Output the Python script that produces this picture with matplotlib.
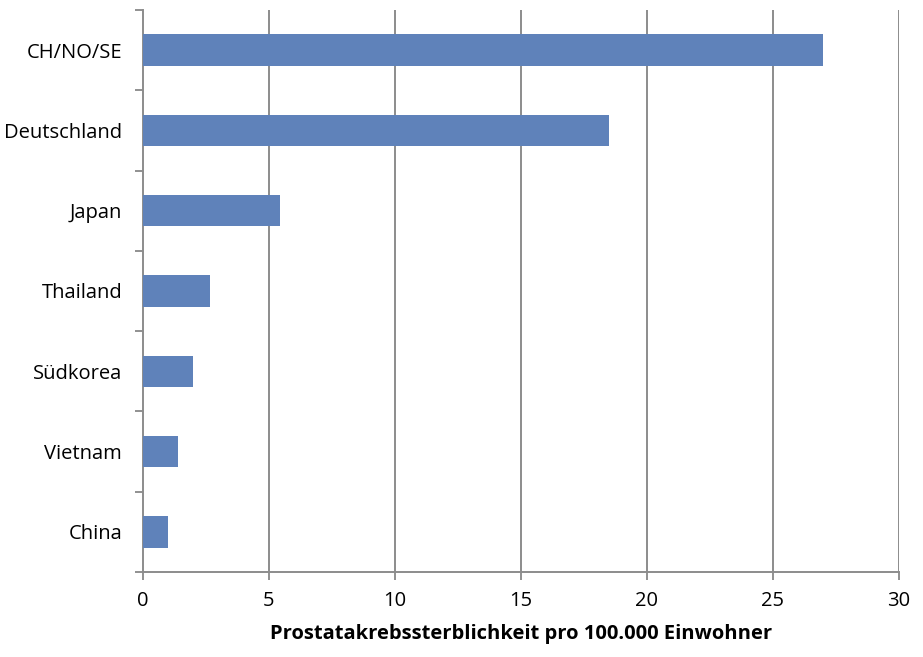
import matplotlib
matplotlib.use("Agg")
import matplotlib.pyplot as plt
import numpy as np

categories = ["CH/NO/SE", "Deutschland", "Japan", "Thailand", "Südkorea", "Vietnam", "China"]
values = [27.0, 18.5, 5.45, 2.65, 2.0, 1.4, 1.0]
xticks = [0, 5, 10, 15, 20, 25, 30]
xlabel = "Prostatakrebssterblichkeit pro 100.000 Einwohner"

plt.rcParams['font.family'] = ['Open Sans', 'DejaVu Sans']

fig = plt.figure(figsize=(9.23, 6.57), dpi=100)
ax = fig.add_axes([143/923, 1 - 572/657, (899-143)/923, (572-10)/657])

n = len(categories)
ypos = np.arange(n)[::-1]
ax.barh(ypos, values, height=0.39, color="#5F82BA", zorder=3)

ax.set_xlim(0, 30)
ax.set_ylim(-0.5, n - 0.5)
ax.set_xticks(xticks)
ax.set_xticklabels([str(t) for t in xticks], fontsize=14.5)
ax.set_yticks(ypos)
ax.set_yticklabels(categories, fontsize=14.5)
ax.tick_params(axis='y', which='major', length=0, pad=15)
ax.set_yticks(np.arange(n + 1) - 0.5, minor=True)
ax.tick_params(axis='y', which='minor', length=6, width=1.3, color='#888888', direction='out')
ax.tick_params(axis='x', which='major', length=6, width=1.3, color='#888888', direction='out', pad=8)

for t in xticks[1:]:
    ax.axvline(t, color='#8c8c8c', lw=1.4, zorder=1)

for s in ['top', 'right']:
    ax.spines[s].set_visible(False)
for s in ['left', 'bottom']:
    ax.spines[s].set_color('#8c8c8c')
    ax.spines[s].set_linewidth(1.4)

ax.set_xlabel(xlabel, fontsize=14.5, fontweight='bold', labelpad=9)

fig.savefig("out.png", dpi=100)
